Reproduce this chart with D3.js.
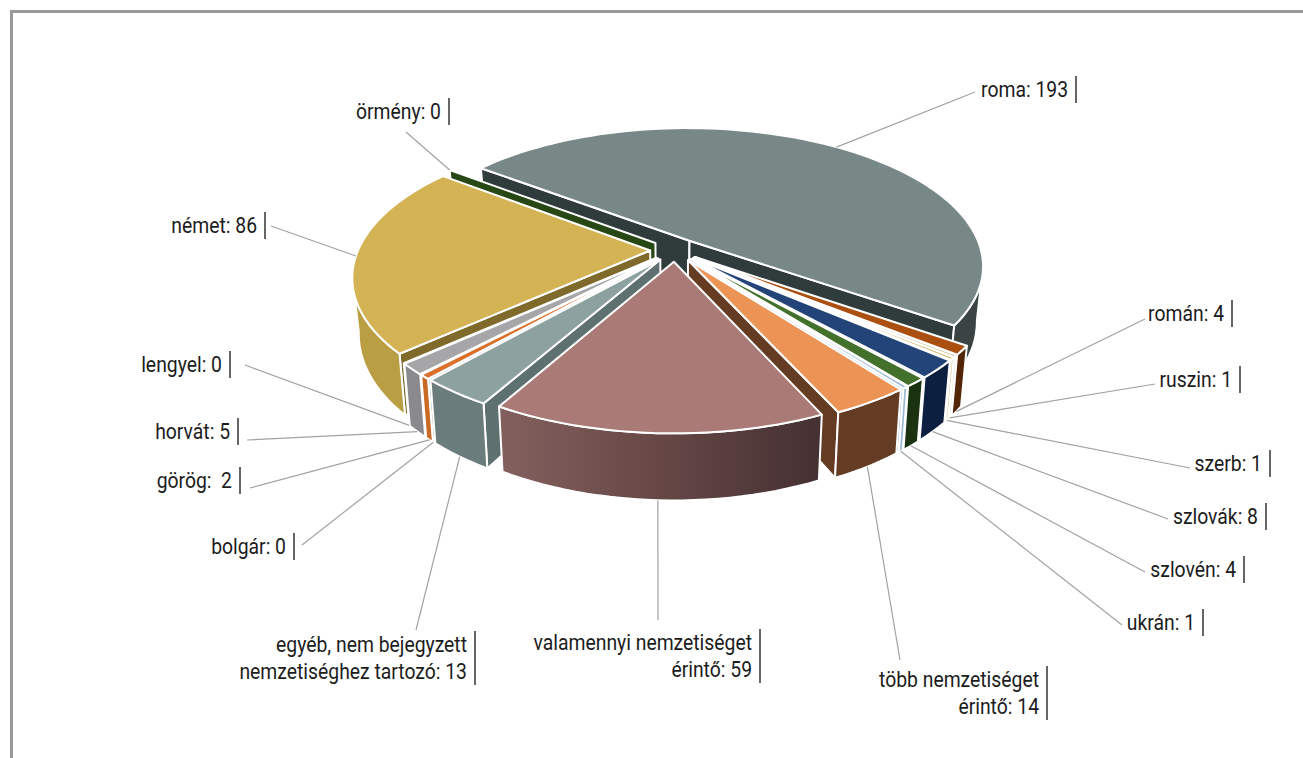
<!DOCTYPE html>
<html lang="hu">
<head>
    <meta charset="UTF-8">
    <title>Nemzetiségek</title>
    <script src="https://d3js.org/d3.v7.min.js"></script>
    <style>
        html, body { margin: 0; padding: 0; background: #fff; }
        svg { display: block; }
        .label { font-family: Roboto, sans-serif; font-size: 21.5px; fill: #1c1c1c; white-space: pre; }
        .bar { stroke: #333; stroke-width: 1.5px; }
        .leader { stroke: #a2a2a2; stroke-width: 1.2px; fill: none; }
        .face { stroke: #fff; stroke-width: 2px; stroke-linejoin: round; }
    </style>
</head>
<body>
    <svg id="chart" width="1303" height="758"></svg>

    <script>
        // Data, in pie order (| marks a line break in the label)
        const categories = ["roma", "román", "ruszin", "szerb", "szlovák", "szlovén", "ukrán",
            "több nemzetiséget|érintő", "valamennyi nemzetiséget|érintő",
            "egyéb, nem bejegyzett|nemzetiséghez tartozó", "bolgár", "görög", "horvát",
            "lengyel", "német", "örmény"];
        const values = [193, 4, 1, 1, 8, 4, 1, 14, 59, 13, 0, 2, 5, 0, 86, 0];

        // Face colours per slice
        const topColors = ["#778887", "#ab4f10", "#d8c9a8", "#c9a64a", "#234478", "#43702b", "#8fb0d0", "#ec9455",
            "#a97a76", "#8da2a0", "#6a7c7c", "#d9702c", "#a6a6a8", "#8a8a8a", "#d4b354", "#274714"];
        const wallColors = ["#303b3b", "#532507", "#e8e0cc", "#d8c890", "#0c1f41", "#1a3210", "#9ab8d4", "#643c24",
            "#6a4a48", "#5f7070", "#6a7c7c", "#c96a26", "#8a8a8e", "#8a8a8a", "#7f6a2c", "#274714"];
        const rimColors = ["#3a4443", "#532507", "#e8e0cc", "#d8c890", "#0c1f41", "#1a3210", "#9ab8d4", "#643c24",
            "url(#roseRim)", "#6b7c7c", "#6a7c7c", "#c96a26", "#8a8a8e", "#8a8a8a", "#b99e43", "#274714"];

        // Label layout: right edge of the text, first baseline, outer end of the leader line
        const labelRight = [1068, 1224, 1232, 1262, 1258, 1236, 1195, 1039, 752, 467, 286, 232, 230, 222, 257, 441];
        const labelBase = [97, 321, 387, 471, 524, 577, 630, 687, 650, 652, 554, 488, 439, 372, 233, 119];
        const leaderEnd = [[975, 92], [1145, 319], [1155, 384], [1190, 468], [1168, 519], [1145, 572], [1122, 625],
            [900, 660], [658, 620], [416, 630], [302, 545], [250, 488], [247, 440], [245, 365], [271, 226], [406, 132]];
        // Leader meets the top edge of the slice (0) or the bottom edge of the rim (1)
        const leaderLevel = [0, 1, 1, 1, 1, 1, 1, 1, 1, 1, 1, 1, 1, 1, 0, 0];

        // Pie geometry
        const cx = 675, cy = 250;
        const radiusX = 292, radiusY = 136, thickness = 54;
        const persp = 0.18, taper = 0.02, explode = 0.085;
        const startAngle = -52.7 * Math.PI / 180;

        const svg = d3.select("#chart");

        // Frame, only top and left are in the picture
        svg.append("path")
            .attr("d", "M11.5,758V11.5H1303")
            .attr("fill", "none")
            .attr("stroke", "#9a9a9c")
            .attr("stroke-width", 3);

        const rose = svg.append("defs").append("linearGradient").attr("id", "roseRim");
        rose.append("stop").attr("offset", "0%").attr("stop-color", "#83605e");
        rose.append("stop").attr("offset", "50%").attr("stop-color", "#664746");
        rose.append("stop").attr("offset", "100%").attr("stop-color", "#443032");

        // Pie plane (X right, Y towards the viewer, z down) to screen
        function project(X, Y, z) {
            const w = 1 / (1 - persp * Y);
            return [cx + radiusX * X * w * (1 - taper * z), cy + (radiusY * Y + thickness * z) * w];
        }
        const dir = a => [Math.sin(a), -Math.cos(a)];
        const line = d3.line().curve(d3.curveLinear);

        const arcs = d3.pie().sort(null).startAngle(startAngle).endAngle(startAngle + 2 * Math.PI)(values);

        const slices = arcs.map((a, i) => {
            const mid = (a.startAngle + a.endAngle) / 2;
            const off = dir(mid).map(v => v * explode);
            return { i, a, mid, off };
        });

        const camY = 1 / persp;
        // Is a face with outward normal n, through plane point p, turned to the viewer?
        const facing = (n, p) => (0 - p[0]) * n[0] + (camY - p[1]) * n[1] > 0;

        function point(s, angle, r, z) {
            const d = dir(angle);
            return project(s.off[0] + d[0] * r, s.off[1] + d[1] * r, z);
        }

        function arcAngles(a0, a1) {
            const n = Math.max(1, Math.ceil((a1 - a0) / (Math.PI / 90)));
            return d3.range(n + 1).map(k => a0 + (a1 - a0) * k / n);
        }

        function drawFace(g, pts, fill) {
            g.append("path").attr("class", "face").attr("fill", fill).attr("d", line(pts) + "Z");
        }

        // Back to front
        const order = slices.slice().sort((p, q) => -Math.cos(p.mid) - -Math.cos(q.mid));
        order.forEach(s => {
            const g = svg.append("g");
            const { a, i, off } = s;
            const wall = angle => [point(s, angle, 0, 0), point(s, angle, 1, 0), point(s, angle, 1, 1), point(s, angle, 0, 1)];
            if (facing(dir(a.startAngle - Math.PI / 2), off)) drawFace(g, wall(a.startAngle), wallColors[i]);
            if (facing(dir(a.endAngle + Math.PI / 2), off)) drawFace(g, wall(a.endAngle), wallColors[i]);

            // Rim, the part that turns to the viewer
            const a0 = Math.max(a.startAngle, Math.PI / 2 + Math.asin(persp));
            const a1 = Math.min(a.endAngle, 3 * Math.PI / 2 - Math.asin(persp));
            if (a1 > a0) {
                const angles = arcAngles(a0, a1);
                const pts = angles.map(t => point(s, t, 1, 0)).concat(angles.slice().reverse().map(t => point(s, t, 1, 1)));
                drawFace(g, pts, rimColors[i]);
            }

            // Top
            const topPts = [point(s, a.startAngle, 0, 0)].concat(arcAngles(a.startAngle, a.endAngle).map(t => point(s, t, 1, 0)));
            if (a.endAngle > a.startAngle) drawFace(g, topPts, topColors[i]);
        });

        // Leader lines
        slices.forEach(s => {
            const inner = point(s, s.mid, 1, leaderLevel[s.i]);
            svg.append("line").attr("class", "leader")
                .attr("x1", leaderEnd[s.i][0]).attr("y1", leaderEnd[s.i][1])
                .attr("x2", inner[0]).attr("y2", inner[1]);
        });

        // Labels with the small rule after them
        categories.forEach((c, i) => {
            const lines = c.split("|");
            const sep = c === "görög" ? ":  " : ": ";
            lines[lines.length - 1] += sep + values[i];
            lines.forEach((t, k) => {
                const base = labelBase[i] + k * 27;
                svg.append("text").attr("class", "label")
                    .attr("text-anchor", "end")
                    .attr("transform", `translate(${labelRight[i]},${base}) scale(0.9,1)`)
                    .text(t);
                svg.append("line").attr("class", "bar")
                    .attr("x1", labelRight[i] + 8).attr("x2", labelRight[i] + 8)
                    .attr("y1", base - 21).attr("y2", base + 6);
            });
        });
    </script>
</body>
</html>
